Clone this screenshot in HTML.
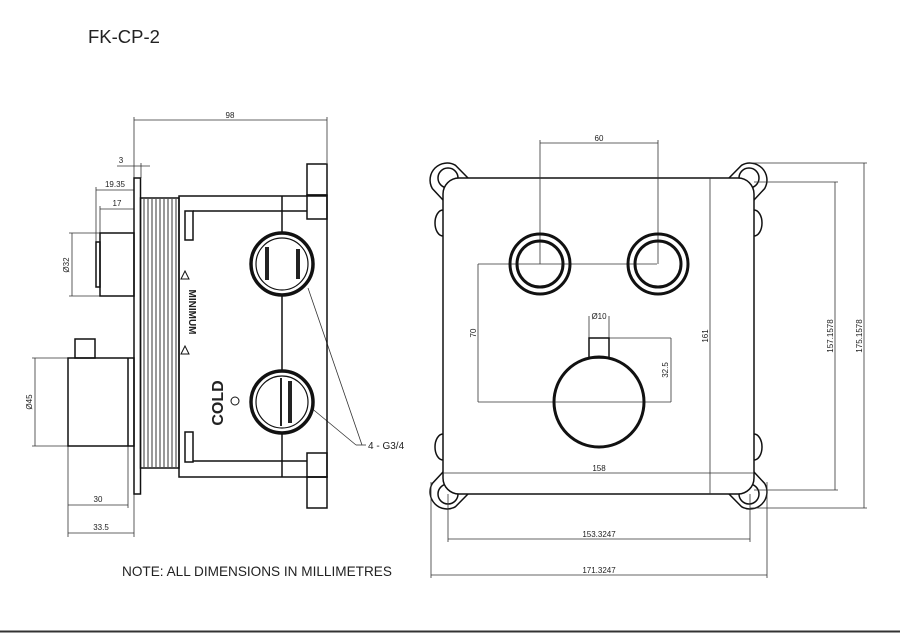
<!DOCTYPE html>
<html><head><meta charset="utf-8"><style>
html,body{margin:0;padding:0;background:#fff;}
svg{display:block;}
text{font-family:"Liberation Sans",Arial,sans-serif;fill:#222;}
</style></head><body>
<svg width="900" height="633" viewBox="0 0 900 633" xmlns="http://www.w3.org/2000/svg">
<rect width="900" height="633" fill="#fff"/>
<line x1="0" y1="631.5" x2="900" y2="631.5" stroke="#333" stroke-width="2"/>
<text x="88" y="43" font-size="18.5">FK-CP-2</text>
<text x="122" y="576" font-size="13.6">NOTE: ALL DIMENSIONS IN MILLIMETRES</text>

<g fill="none" stroke="#333" stroke-width="0.8">
<line x1="134" y1="120" x2="327" y2="120"/>
<line x1="134" y1="117" x2="134" y2="178"/>
<line x1="327" y1="117" x2="327" y2="163"/>
<line x1="117" y1="166" x2="150" y2="166"/>
<line x1="141" y1="163" x2="141" y2="178"/>
<line x1="96" y1="190" x2="134" y2="190"/>
<line x1="96" y1="187" x2="96" y2="242"/>
<line x1="100" y1="209" x2="134" y2="209"/>
<line x1="100" y1="206" x2="100" y2="233"/>
<line x1="72" y1="233" x2="72" y2="296"/>
<line x1="69" y1="233" x2="100" y2="233"/>
<line x1="69" y1="296" x2="100" y2="296"/>
<line x1="35" y1="358" x2="35" y2="446"/>
<line x1="32" y1="358" x2="68" y2="358"/>
<line x1="32" y1="446" x2="68" y2="446"/>
<line x1="68" y1="505" x2="128" y2="505"/>
<line x1="68" y1="446" x2="68" y2="537"/>
<line x1="128" y1="446" x2="128" y2="508"/>
<line x1="68" y1="533" x2="134" y2="533"/>
<line x1="134" y1="494" x2="134" y2="537"/>
<line x1="308" y1="288" x2="362" y2="445"/>
<line x1="292" y1="392" x2="356" y2="445"/>
<line x1="356" y1="445" x2="366" y2="445"/>
</g>
<g font-size="8" text-anchor="middle">
<text x="230" y="118">98</text>
<text x="121" y="163">3</text>
<text x="115" y="187">19.35</text>
<text x="117" y="206">17</text>
<text transform="translate(69,265) rotate(-90)">Ø32</text>
<text transform="translate(32,402) rotate(-90)">Ø45</text>
<text x="98" y="502">30</text>
<text x="101" y="530">33.5</text>
</g>
<text x="368" y="449" font-size="10">4 - G3/4</text>

<g fill="none" stroke="#111" stroke-width="1.5">
<rect x="134" y="178" width="6.5" height="316"/>
<rect x="140.5" y="198" width="38.5" height="270"/>
<rect x="100" y="233" width="34" height="63"/>
<rect x="96" y="242" width="4" height="45"/>
<rect x="68" y="358" width="66" height="88"/>
<line x1="128" y1="358" x2="128" y2="446"/>
<rect x="75" y="339" width="20" height="19"/>
<rect x="179" y="196" width="148" height="281"/>
<line x1="193" y1="211" x2="307" y2="211"/>
<line x1="193" y1="461" x2="307" y2="461"/>
<line x1="282" y1="196" x2="282" y2="477"/>
<rect x="307" y="164" width="20" height="31"/>
<rect x="307" y="195" width="20" height="24"/>
<rect x="307" y="453" width="20" height="24"/>
<rect x="307" y="477" width="20" height="31"/>
<rect x="185" y="211" width="8" height="29"/>
<rect x="185" y="432" width="8" height="30"/>
</g>
<g stroke="#333" stroke-width="1">
<line x1="144" y1="199" x2="144" y2="467"/><line x1="148" y1="199" x2="148" y2="467"/>
<line x1="152" y1="199" x2="152" y2="467"/><line x1="156" y1="199" x2="156" y2="467"/>
<line x1="160" y1="199" x2="160" y2="467"/><line x1="164" y1="199" x2="164" y2="467"/>
<line x1="168" y1="199" x2="168" y2="467"/><line x1="172" y1="199" x2="172" y2="467"/>
<line x1="176" y1="199" x2="176" y2="467"/>
</g>
<g fill="#fff" stroke="#111">
<circle cx="282" cy="264" r="31" stroke-width="3.5"/>
<circle cx="282" cy="264" r="26" stroke-width="1.2"/>
<circle cx="282" cy="402" r="31" stroke-width="3.5"/>
<circle cx="282" cy="402" r="26" stroke-width="1.2"/>
</g>
<g fill="#222">
<rect x="265" y="247" width="4" height="33"/>
<rect x="296" y="249" width="4" height="30"/>
<rect x="280" y="378" width="2" height="48"/>
<rect x="288" y="381" width="4" height="42"/>
</g>
<g fill="none" stroke="#111" stroke-width="1">
<path d="M181 279 L189 279 L185 271 Z"/>
<path d="M181 354 L189 354 L185 346 Z"/>
<circle cx="235" cy="401" r="4"/>
</g>
<text transform="translate(189,312) rotate(90)" font-size="10" font-weight="bold" text-anchor="middle">MINIMUM</text>
<text transform="translate(223,403) rotate(-90)" font-size="16" font-weight="bold" text-anchor="middle">COLD</text>

<g fill="#fff" stroke="#111" stroke-width="1.5">
<path d="M468 178 L455.5 165.3 A17 17 0 0 0 432.3 188.5 L443 200"/>
<circle cx="448" cy="178" r="10"/>
<path d="M729 178 L741.5 165.3 A17 17 0 0 1 764.7 188.5 L754 200"/>
<circle cx="749" cy="178" r="10"/>
<path d="M468 494 L455.5 506.7 A17 17 0 0 1 432.3 483.5 L443 472"/>
<circle cx="448" cy="494" r="10"/>
<path d="M729 494 L741.5 506.7 A17 17 0 0 0 764.7 483.5 L754 472"/>
<circle cx="749" cy="494" r="10"/>
<ellipse cx="443" cy="223" rx="8" ry="13"/>
<ellipse cx="443" cy="447" rx="8" ry="13"/>
<ellipse cx="754" cy="223" rx="8" ry="13"/>
<ellipse cx="754" cy="447" rx="8" ry="13"/>
<rect x="443" y="178" width="311" height="316" rx="16"/>
</g>
<g fill="none" stroke="#333" stroke-width="0.8">
<line x1="540" y1="143" x2="658" y2="143"/>
<line x1="540" y1="140" x2="540" y2="264"/>
<line x1="658" y1="140" x2="658" y2="264"/>
<line x1="478" y1="264" x2="657" y2="264"/>
<line x1="478" y1="264" x2="478" y2="402"/>
<line x1="478" y1="402" x2="671" y2="402"/>
<line x1="609" y1="338" x2="671" y2="338"/>
<line x1="671" y1="338" x2="671" y2="402"/>
<line x1="589" y1="316" x2="589" y2="338"/>
<line x1="609" y1="316" x2="609" y2="338"/>
<line x1="710" y1="178" x2="710" y2="494"/>
<line x1="443" y1="473" x2="754" y2="473"/>
<line x1="754" y1="182" x2="838" y2="182"/>
<line x1="754" y1="490" x2="838" y2="490"/>
<line x1="835" y1="182" x2="835" y2="490"/>
<line x1="750" y1="163" x2="867" y2="163"/>
<line x1="750" y1="508" x2="867" y2="508"/>
<line x1="864" y1="163" x2="864" y2="508"/>
<line x1="448" y1="494" x2="448" y2="542"/>
<line x1="750" y1="494" x2="750" y2="542"/>
<line x1="448" y1="539" x2="750" y2="539"/>
<line x1="431" y1="482" x2="431" y2="578"/>
<line x1="767" y1="482" x2="767" y2="578"/>
<line x1="431" y1="575" x2="767" y2="575"/>
</g>
<g fill="none" stroke="#111">
<circle cx="540" cy="264" r="30" stroke-width="3"/>
<circle cx="540" cy="264" r="23" stroke-width="3"/>
<circle cx="658" cy="264" r="30" stroke-width="3"/>
<circle cx="658" cy="264" r="23" stroke-width="3"/>
<circle cx="599" cy="402" r="45" stroke-width="3"/>
<rect x="589" y="338" width="20" height="20" stroke-width="1.5"/>
</g>
<g font-size="8" text-anchor="middle">
<text x="599" y="141">60</text>
<text x="599" y="319">Ø10</text>
<text transform="translate(476,333) rotate(-90)">70</text>
<text transform="translate(668,370) rotate(-90)">32.5</text>
<text transform="translate(708,336) rotate(-90)">161</text>
<text transform="translate(833,336) rotate(-90)">157.1578</text>
<text transform="translate(862,336) rotate(-90)">175.1578</text>
<text x="599" y="471">158</text>
<text x="599" y="537">153.3247</text>
<text x="599" y="573">171.3247</text>
</g>
</svg>
</body></html>
